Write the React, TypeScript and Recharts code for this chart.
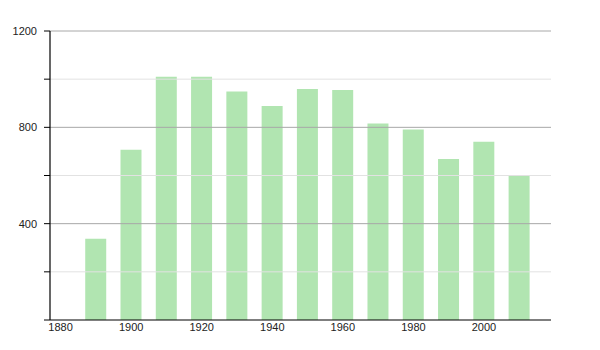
// Population bar chart — census years 1890–2010

import React from 'react';
import { BarChart, Bar, XAxis, YAxis, ReferenceLine } from 'recharts';

// ── data ──

const YEARS = [1890, 1900, 1910, 1920, 1930, 1940, 1950, 1960, 1970, 1980, 1990, 2000, 2010];
const POPULATION = [337, 707, 1010, 1010, 949, 889, 959, 955, 816, 791, 668, 740, 599];

const X_TICKS = [1880, 1900, 1920, 1940, 1960, 1980, 2000];
const Y_TICKS = [0, 200, 400, 600, 800, 1000, 1200];
const Y_LABELED = [400, 800, 1200];
const MAJOR_GRID = [400, 800, 1200];
const MINOR_GRID = [200, 600, 1000];

const BAR_COLOR = '#b1e5b1';
const FONT = '"Liberation Sans", Arial, Helvetica, sans-serif';

const chartData = YEARS.map((year, i) => ({ year, value: POPULATION[i] }));

export default function App(): React.JSX.Element {
  return (
    <div style={{ position: 'absolute', left: 0, top: 0, width: 600, height: 350, background: '#fff' }}>
      <BarChart
        width={600}
        height={350}
        data={chartData}
        margin={{ top: 31, right: 49, bottom: 0, left: 0 }}
      >
        {MINOR_GRID.map((v) => (
          <ReferenceLine key={`mi${v}`} y={v} stroke="#e2e2e2" strokeWidth={1} />
        ))}
        {MAJOR_GRID.map((v) => (
          <ReferenceLine key={`ma${v}`} y={v} stroke="#a8a8a8" strokeWidth={1} />
        ))}
        <XAxis
          type="number"
          dataKey="year"
          domain={[1877, 2019]}
          ticks={X_TICKS}
          allowDataOverflow
          height={30}
          tickLine={false}
          tickSize={3}
          tickMargin={0}
          axisLine={{ stroke: '#000', strokeWidth: 1.2 }}
          tick={{ fontSize: 11, fill: '#222', fontFamily: FONT }}
        />
        <YAxis
          type="number"
          domain={[0, 1200]}
          ticks={Y_TICKS}
          width={50}
          tickSize={6}
          tickMargin={7}
          tickFormatter={(v: number) => (Y_LABELED.includes(v) ? String(v) : '')}
          tickLine={{ stroke: '#000' }}
          axisLine={{ stroke: '#000', strokeWidth: 1.2 }}
          tick={{ fontSize: 11, fill: '#222', fontFamily: FONT }}
        />
        <Bar dataKey="value" fill={BAR_COLOR} barSize={21} isAnimationActive={false} />
      </BarChart>
    </div>
  );
}
